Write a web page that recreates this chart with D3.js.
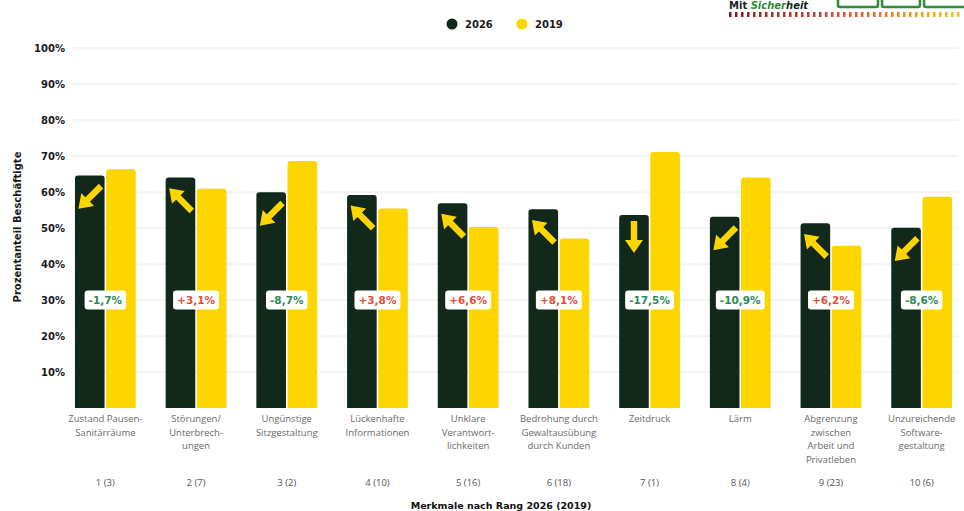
<!DOCTYPE html>
<html><head><meta charset="utf-8">
<script src="https://cdn.jsdelivr.net/npm/d3@7"></script>
<style>
html,body{margin:0;padding:0;background:#fff;}
svg{display:block;}
</style></head>
<body>
<svg id="chart" width="964" height="511"></svg>
<script>
// ---- data ----
const categories = [
  ["Zustand Pausen-","Sanitärräume"],
  ["Störungen/","Unterbrech-","ungen"],
  ["Ungünstige","Sitzgestaltung"],
  ["Lückenhafte","Informationen"],
  ["Unklare","Verantwort-","lichkeiten"],
  ["Bedrohung durch","Gewaltausübung","durch Kunden"],
  ["Zeitdruck"],
  ["Lärm"],
  ["Abgrenzung","zwischen","Arbeit und","Privatleben"],
  ["Unzureichende","Software-","gestaltung"]
];
const ranks = ["1 (3)","2 (7)","3 (2)","4 (10)","5 (16)","6 (18)","7 (1)","8 (4)","9 (23)","10 (6)"];
const values2026 = [64.6, 64.0, 59.9, 59.2, 56.9, 55.2, 53.6, 53.1, 51.3, 50.1];
const values2019 = [66.3, 60.9, 68.6, 55.4, 50.3, 47.1, 71.1, 64.0, 45.1, 58.7];
const changes = [-1.7, 3.1, -8.7, 3.8, 6.6, 8.1, -17.5, -10.9, 6.2, -8.6];
const seriesNames = ["2026","2019"];
const yTicks = [10,20,30,40,50,60,70,80,90,100];
const yTitle = "Prozentanteil Beschäftigte";
const xTitle = "Merkmale nach Rang 2026 (2019)";

// ---- styles ----
const DARK = "#11281a", YELLOW = "#fdd600";
const NEG = "#2f8a58", POS = "#e0503a";
const svg = d3.select("#chart");

const idx = d3.range(categories.length);
const x0 = d3.scaleBand().domain(idx).range([60, 967]).paddingInner(0.33).paddingOuter(0.165);
const x1 = d3.scaleBand().domain(seriesNames).range([0, x0.bandwidth()]).paddingInner(0.05);
const y = d3.scaleLinear().domain([0, 100]).range([408, 48]);
const color = d3.scaleOrdinal().domain(seriesNames).range([DARK, YELLOW]);

// gridlines
svg.append("g").selectAll("line").data(yTicks).join("line")
  .attr("x1", 73).attr("x2", 958)
  .attr("y1", d => y(d)).attr("y2", d => y(d))
  .attr("stroke", "#e8e8e8").attr("stroke-width", 1);

// y axis labels
const yAxis = d3.axisLeft(y).tickValues(yTicks).tickFormat(d => d + "%").tickSize(0).tickPadding(0);
const ya = svg.append("g").attr("transform", "translate(65,0)").call(yAxis);
ya.select(".domain").remove();
ya.selectAll("text").attr("font-family", "DejaVu Sans").attr("font-weight", "bold")
  .attr("font-size", 10).attr("fill", "#1a1a1a").attr("dy", "0.35em");

// y title
svg.append("text").attr("transform", "translate(21,227) rotate(-90)")
  .attr("text-anchor", "middle").attr("font-family", "DejaVu Sans").attr("font-weight", "bold")
  .attr("font-size", 10).attr("fill", "#1a1a1a").text(yTitle);

// bars with rounded top
function topRounded(x, yTop, w, h, r) {
  r = Math.min(r, h);
  return `M${x},${yTop + h}V${yTop + r}Q${x},${yTop} ${x + r},${yTop}H${x + w - r}Q${x + w},${yTop} ${x + w},${yTop + r}V${yTop + h}Z`;
}
const groups = svg.append("g").selectAll("g").data(idx).join("g")
  .attr("transform", i => `translate(${x0(i)},0)`);
groups.selectAll("path.bar").data(i => [
    {s: "2026", v: values2026[i]}, {s: "2019", v: values2019[i]}])
  .join("path").attr("class", "bar")
  .attr("d", d => topRounded(x1(d.s), y(d.v), x1.bandwidth(), y(0) - y(d.v), 3))
  .attr("fill", d => color(d.s));

// arrows inside dark bars
const arrowPath = "M-16,-3.2L3,-3.2L3,-9L16,0L3,9L3,3.2L-16,3.2Z";
groups.append("path")
  .attr("d", arrowPath)
  .attr("fill", YELLOW)
  .attr("transform", i => {
    const c = changes[i];
    const ang = c < -15 ? 90 : (c < 0 ? 135 : 225);
    const cx = x1("2026") + x1.bandwidth() / 2;
    const cy = y(values2026[i]) + 22;
    return `translate(${cx},${cy}) rotate(${ang})`;
  });

// change labels
const fmt = c => (c > 0 ? "+" : "") + c.toFixed(1).replace(".", ",") + "%";
groups.each(function(i) {
  const g = d3.select(this);
  const cx = x0.bandwidth() / 2;
  const t = g.append("text").attr("x", cx).attr("y", y(30)).attr("dy", "0.36em")
    .attr("text-anchor", "middle").attr("font-family", "DejaVu Sans").attr("font-weight", "bold")
    .attr("font-size", 10.5).attr("fill", changes[i] < 0 ? NEG : POS).text(fmt(changes[i]));
  const w = t.node().getComputedTextLength() + 8;
  g.insert("rect", "text").attr("x", cx - w / 2).attr("y", y(30) - 9.5).attr("width", w).attr("height", 19)
    .attr("rx", 3).attr("fill", "#fff");
});

// category labels
groups.each(function(i) {
  const g = d3.select(this);
  const cx = x0.bandwidth() / 2;
  const t = g.append("text").attr("text-anchor", "middle").attr("font-family", "Open Sans")
    .attr("font-size", 9.5).attr("fill", "#6a6a6a");
  categories[i].forEach((line, k) => {
    t.append("tspan").attr("x", cx).attr("y", 422 + k * 13.7).text(line);
  });
  g.append("text").attr("x", cx).attr("y", 486).attr("text-anchor", "middle")
    .attr("font-family", "Open Sans").attr("font-size", 9.5).attr("fill", "#555").text(ranks[i]);
});

// x title
svg.append("text").attr("x", 501).attr("y", 509).attr("text-anchor", "middle")
  .attr("font-family", "DejaVu Sans").attr("font-weight", "bold").attr("font-size", 9.5)
  .attr("fill", "#111").text(xTitle);

// legend
const leg = svg.append("g");
[[452, "2026"], [522, "2019"]].forEach(([lx, s]) => {
  leg.append("circle").attr("cx", lx).attr("cy", 24).attr("r", 5.5).attr("fill", color(s));
  leg.append("text").attr("x", lx + 13).attr("y", 24).attr("dy", "0.35em")
    .attr("font-family", "DejaVu Sans").attr("font-weight", "bold").attr("font-size", 10)
    .attr("fill", "#1a1a1a").text(s);
});

// logo (top right)
const logo = svg.append("g");
const lt = logo.append("text").attr("x", 729).attr("y", 9).attr("font-family", "DejaVu Sans")
  .attr("font-weight", "bold").attr("font-size", 10).attr("font-style", "italic");
lt.append("tspan").attr("fill", "#12291a").attr("font-style", "normal").text("Mit ");
lt.append("tspan").attr("fill", "#2e8b3a").text("Sicher");
lt.append("tspan").attr("fill", "#12291a").text("heit");
[[838, 40], [882, 38], [924, 44]].forEach(([bx, bw]) => {
  logo.append("rect").attr("x", bx).attr("y", -8).attr("width", bw).attr("height", 15)
    .attr("rx", 2).attr("fill", "none").attr("stroke", "#2e8b3a").attr("stroke-width", 2.5);
});
const dashColor = d3.scaleLinear().domain([0, 0.5, 1]).range(["#7a1c1c", "#e0503a", "#f2c51c"]);
const nd = 39;
d3.range(nd).forEach(k => {
  logo.append("rect").attr("x", 729 + k * 6).attr("y", 12).attr("width", 2.5).attr("height", 5)
    .attr("fill", dashColor(k / (nd - 1)));
});
</script>
</body></html>
